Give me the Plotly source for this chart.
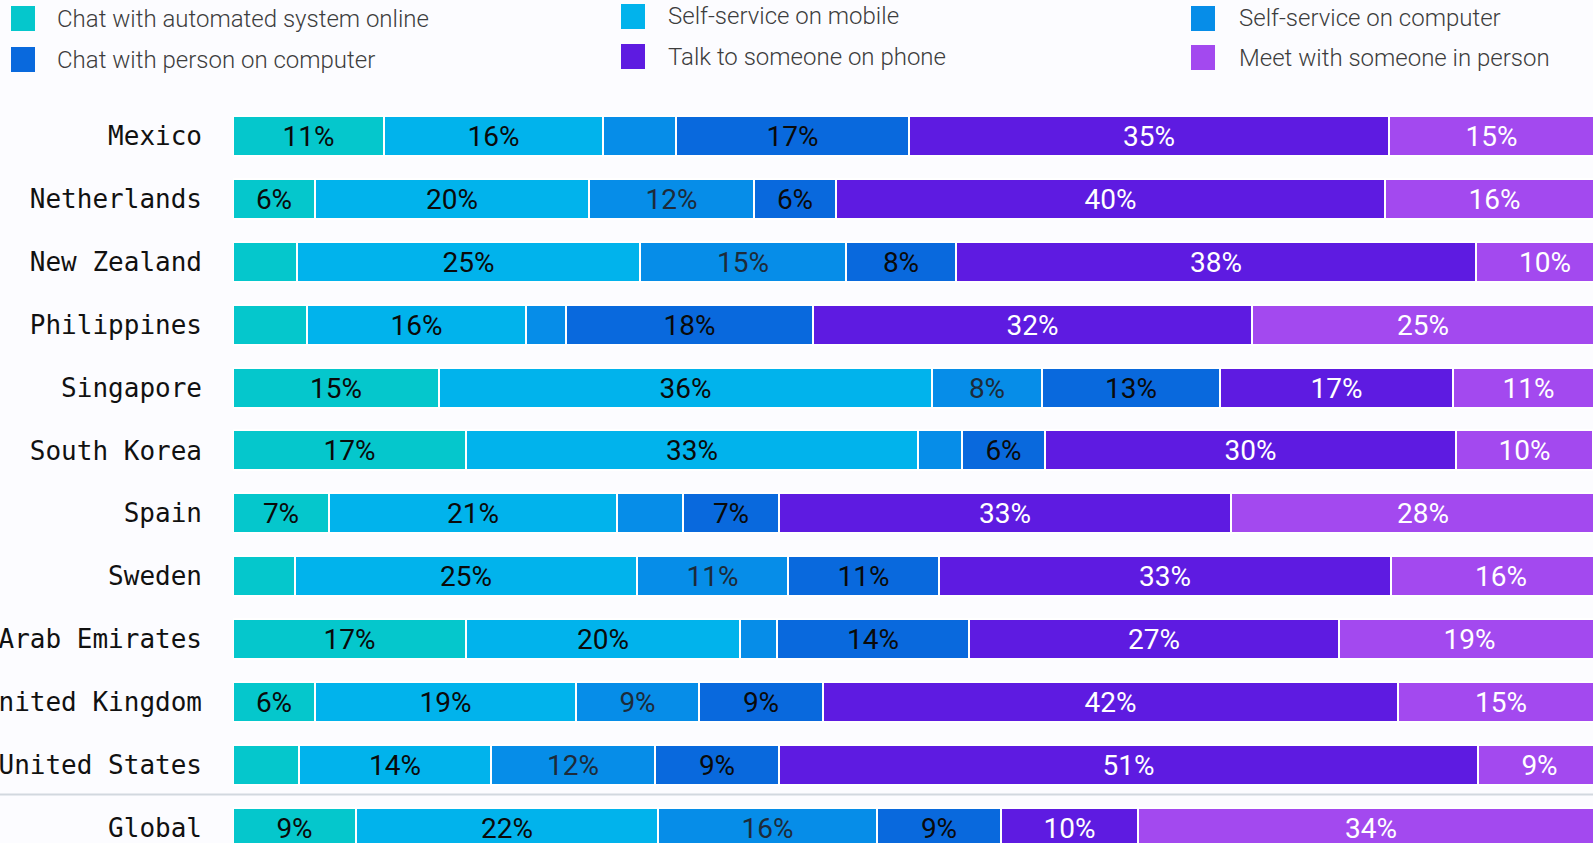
import plotly.graph_objects as go

# Preferred contact channel, share of respondents (%) per market
countries = [
    "Mexico", "Netherlands", "New Zealand", "Philippines", "Singapore",
    "South Korea", "Spain", "Sweden", "United Arab Emirates",
    "United Kingdom", "United States", "Global",
]
chat_automated = [11, 6, 4.7, 5.4, 15, 17, 7, 4.5, 17, 6, 4.8, 9]
self_mobile = [16, 20, 25, 16, 36, 33, 21, 25, 20, 19, 14, 22]
self_computer = [5.3, 12, 15, 2.9, 8, 3.2, 4.8, 11, 2.7, 9, 12, 16]
chat_person = [17, 6, 8, 18, 13, 6, 7, 11, 14, 9, 9, 9]
talk_phone = [35, 40, 38, 32, 17, 30, 33, 33, 27, 42, 51, 10]
meet_person = [15, 16, 10, 25, 11, 10, 28, 16, 19, 15, 9, 34]

# (name, values, fill, label colour)
series = [
    ("Chat with automated system online", chat_automated, "#05C7CC", "#0a0a0a"),
    ("Self-service on mobile", self_mobile, "#01B3EC", "#0a0a0a"),
    ("Self-service on computer", self_computer, "#068DE8", "#1d2b3a"),
    ("Chat with person on computer", chat_person, "#0969DD", "#0a0a0a"),
    ("Talk to someone on phone", talk_phone, "#5E1BE1", "#ffffff"),
    ("Meet with someone in person", meet_person, "#A349EF", "#ffffff"),
]

# Figure geometry (pixels)
W, H = 1593, 843
ML, MR, MT, MB = 233, 0, 90, 0
PW, PH = W - ML - MR, H - MT - MB
BG = "#fcfcff"


def paper_x(px):
    return (px - ML) / PW


def paper_y(py):
    return (H - MB - py) / PH


fig = go.Figure()
for name, vals, color, txtcolor in series:
    fig.add_trace(go.Bar(
        name=name,
        y=countries,
        x=vals,
        orientation="h",
        width=0.636,
        marker=dict(color=color, line=dict(color="#ffffff", width=2)),
        text=[f"{v:.0f}%" if v >= 6 else "" for v in vals],
        textposition="inside",
        insidetextanchor="middle",
        textangle=0,
        textfont=dict(family="Roboto", size=28, color=txtcolor),
        showlegend=False,
        hoverinfo="skip",
    ))

# Legend drawn as three columns of swatches + labels
legend_items = [
    # (series index, swatch x0, swatch y0, swatch y1, text x, text y)
    (0, 11, 6, 31, 55, 19),
    (3, 11, 47, 72, 55, 60),
    (1, 621, 4, 29, 666, 16),
    (4, 621, 44, 69, 666, 57),
    (2, 1191, 6, 31, 1237, 18),
    (5, 1191, 45, 70, 1237, 58),
]
shapes = []
annotations = []
for idx, sx, sy0, sy1, tx, ty in legend_items:
    name, _, color, _ = series[idx]
    shapes.append(dict(
        type="rect", xref="paper", yref="paper",
        x0=paper_x(sx), x1=paper_x(sx + 24),
        y0=paper_y(sy1), y1=paper_y(sy0),
        fillcolor=color, line=dict(width=0),
    ))
    annotations.append(dict(
        xref="paper", yref="paper",
        x=paper_x(tx), y=paper_y(ty),
        xanchor="left", yanchor="middle",
        text=name, showarrow=False,
        font=dict(family="Roboto", size=24, color="#3d3d3d", weight=300),
    ))

# Divider between the markets and the global total
shapes.append(dict(
    type="line", xref="paper", yref="y",
    x0=paper_x(0), x1=1, y0=10.47, y1=10.47,
    line=dict(color="#d2d8df", width=2),
))

fig.update_layout(
    barmode="stack",
    width=W, height=H,
    margin=dict(l=ML, r=MR, t=MT, b=MB, pad=0),
    paper_bgcolor=BG, plot_bgcolor=BG,
    shapes=shapes,
    annotations=annotations,
    uniformtext=dict(minsize=28, mode="show"),
    xaxis=dict(range=[0, 99.2], visible=False, fixedrange=True),
    yaxis=dict(
        type="category",
        categoryorder="array", categoryarray=countries,
        range=[11.240, -0.731],
        showgrid=False, zeroline=False, showline=False,
        ticks="", ticklabelstandoff=30,
        tickfont=dict(family="DejaVu Sans Mono", size=26, color="#111111"),
        automargin=False, fixedrange=True,
    ),
    bargap=0,
)

fig.write_html("out.html", config={"displayModeBar": False})
